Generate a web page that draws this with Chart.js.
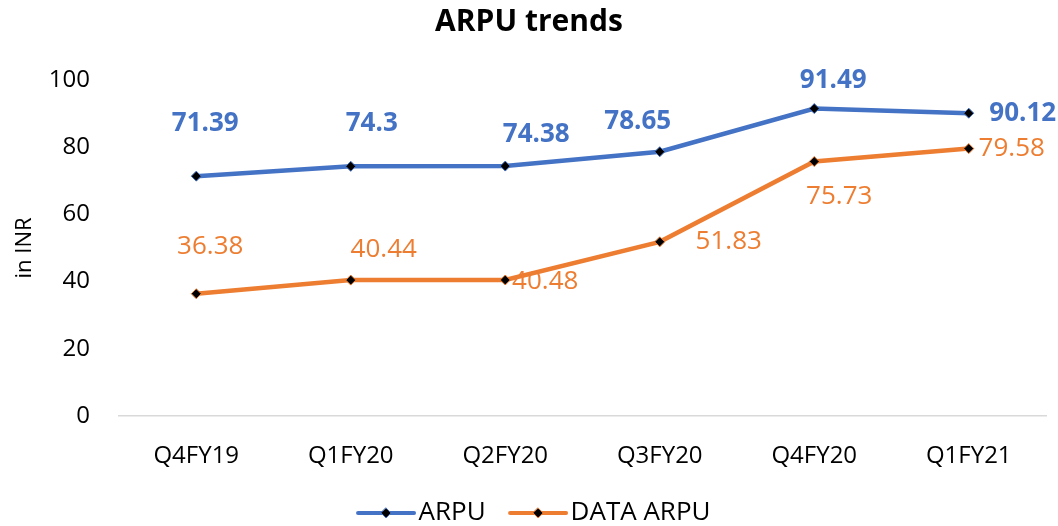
<!DOCTYPE html>
<html>
<head>
<meta charset="utf-8">
<script src="https://cdn.jsdelivr.net/npm/chart.js@4/dist/chart.umd.min.js"></script>
<style>
  html, body { margin: 0; padding: 0; background: #fff; }
  #wrap { width: 1058px; height: 526px; }
</style>
</head>
<body>
<div id="wrap"><canvas id="arpuChart"></canvas></div>
<script>
var quarters = ["Q4FY19", "Q1FY20", "Q2FY20", "Q3FY20", "Q4FY20", "Q1FY21"];
var arpu = [71.39, 74.3, 74.38, 78.65, 91.49, 90.12];
var dataArpu = [36.38, 40.44, 40.48, 51.83, 75.73, 79.58];
var yTicks = [0, 20, 40, 60, 80, 100];

// label nudges (px) relative to each point, like the hand-placed labels in the original
var arpuLabelShift = [[9, -53], [21, -43], [31, -31], [-22, -30], [19, -28], [54, 0]];
var dataLabelShift = [[14, -47], [33, -31], [40, 2], [69, 0], [25, 35], [43, 0]];

var blue = '#4472C4';
var orange = '#ED7D31';
var fontFam = "'Open Sans', 'Noto Sans', sans-serif";

// legend mark: line with a diamond, shifted right so it sits next to the text
function legendMark(color) {
  var c = document.createElement('canvas');
  c.width = 79; c.height = 14;
  var g = c.getContext('2d');
  g.strokeStyle = color;
  g.lineWidth = 4;
  g.lineCap = 'round';
  g.beginPath(); g.moveTo(21, 7); g.lineTo(77, 7); g.stroke();
  g.fillStyle = '#000';
  g.lineWidth = 1;
  g.beginPath(); g.moveTo(49, 2); g.lineTo(54, 7); g.lineTo(49, 12); g.lineTo(44, 7); g.closePath();
  g.fill(); g.stroke();
  return c;
}

var pointLabels = {
  id: 'pointLabels',
  afterDatasetsDraw: function(chart) {
    var ctx = chart.ctx;
    chart.data.datasets.forEach(function(ds, di) {
      var meta = chart.getDatasetMeta(di);
      var shift = ds.labelShift;
      ctx.save();
      ctx.font = ds.labelFont;
      ctx.fillStyle = ds.borderColor;
      ctx.textAlign = 'center';
      ctx.textBaseline = 'middle';
      meta.data.forEach(function(pt, i) {
        ctx.fillText(String(ds.data[i]), pt.x + shift[i][0], pt.y + shift[i][1]);
      });
      ctx.restore();
    });
  }
};

var ctx = document.getElementById('arpuChart').getContext('2d');
var myChart = new Chart(ctx, {
  type: 'line',
  data: {
    labels: quarters,
    datasets: [
      {
        label: 'ARPU',
        data: arpu,
        borderColor: blue,
        backgroundColor: '#000',
        borderWidth: 4.5,
        pointStyle: 'rectRot',
        pointRadius: 5,
        pointBorderColor: blue,
        pointBackgroundColor: '#000',
        pointBorderWidth: 1,
        labelShift: arpuLabelShift,
        labelFont: "bold 26px " + fontFam,
        legendMark: legendMark(blue)
      },
      {
        label: 'DATA ARPU',
        data: dataArpu,
        borderColor: orange,
        backgroundColor: '#000',
        borderWidth: 4.5,
        pointStyle: 'rectRot',
        pointRadius: 5,
        pointBorderColor: orange,
        pointBackgroundColor: '#000',
        pointBorderWidth: 1,
        labelShift: dataLabelShift,
        labelFont: "26px " + fontFam,
        legendMark: legendMark(orange)
      }
    ]
  },
  options: {
    responsive: true,
    maintainAspectRatio: false,
    animation: false,
    layout: { padding: { left: 12, right: 12, top: 4, bottom: -10 } },
    plugins: {
      title: {
        display: true,
        text: 'ARPU trends',
        color: '#000',
        font: { family: fontFam, size: 30, weight: 'bold' },
        padding: { top: 0, bottom: 40 }
      },
      legend: {
        position: 'bottom',
        labels: {
          usePointStyle: true,
          pointStyleWidth: 58,
          color: '#000',
          padding: 14,
          font: { family: fontFam, size: 26 },
          generateLabels: function(chart) {
            return chart.data.datasets.map(function(ds, i) {
              return {
                text: ds.label,
                pointStyle: ds.legendMark,
                fillStyle: ds.borderColor,
                strokeStyle: ds.borderColor,
                lineWidth: 0,
                fontColor: '#000',
                datasetIndex: i,
                hidden: false
              };
            });
          }
        }
      },
      tooltip: { enabled: false }
    },
    scales: {
      x: {
        offset: true,
        grid: { display: false, drawTicks: false },
        border: { color: '#d9d9d9', width: 1.5 },
        ticks: { color: '#000', padding: 26, font: { family: fontFam, size: 24 } },
        afterFit: function(scale) { scale.height = 70; }
      },
      y: {
        min: 0,
        max: 100,
        afterBuildTicks: function(scale) {
          scale.ticks = yTicks.map(function(v) { return { value: v }; });
        },
        grid: { display: false, drawTicks: false },
        border: { display: false },
        ticks: { color: '#000', padding: 29, font: { family: fontFam, size: 24 } },
        title: {
          display: true,
          text: 'in INR',
          color: '#000',
          padding: { top: 0, bottom: 0 },
          font: { family: fontFam, size: 22 }
        },
        afterFit: function(scale) { scale.width = 107; }
      }
    }
  },
  plugins: [pointLabels]
});
</script>
</body>
</html>
